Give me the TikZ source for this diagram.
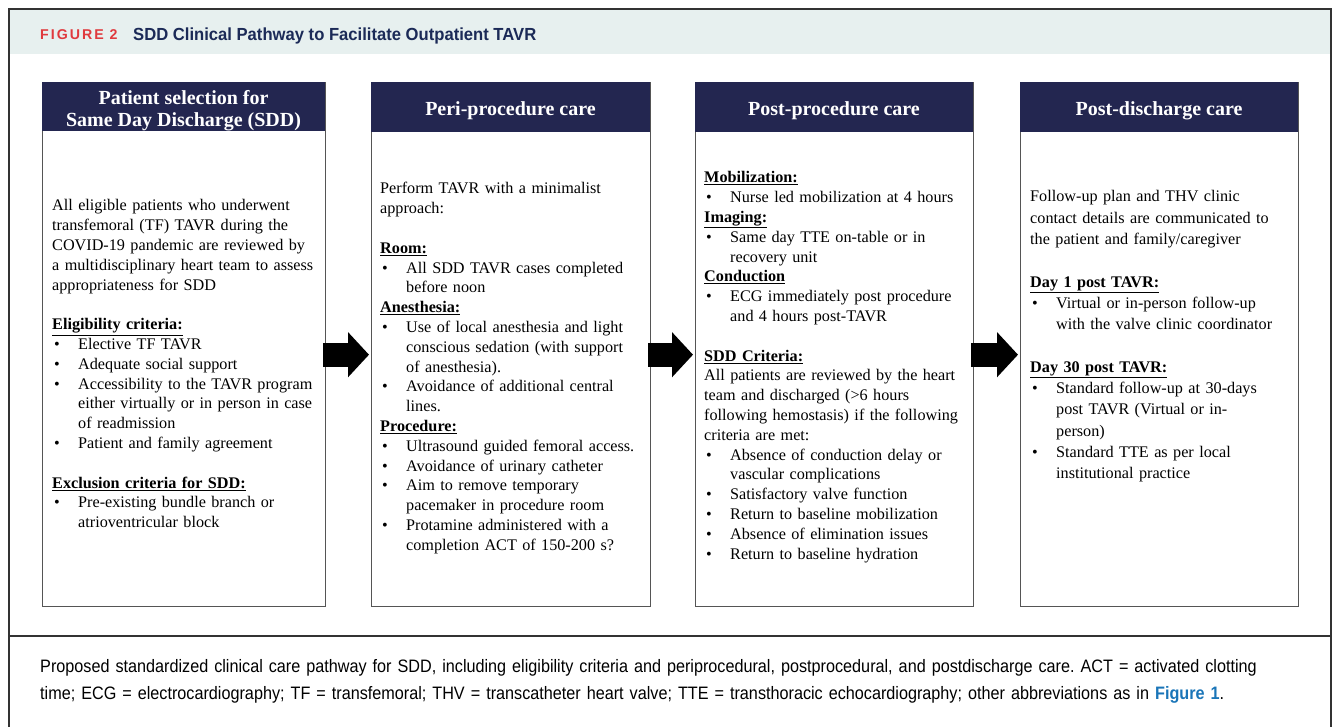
\documentclass[tikz,border=0pt]{standalone}
\usepackage{fontspec}
\setmainfont{Liberation Serif}
\newfontfamily\capfont[FakeStretch=0.9]{Liberation Sans}
\newfontfamily\titlefont[FakeStretch=0.95]{Liberation Sans}
\newfontfamily\figfont[LetterSpace=14]{Liberation Sans}
\usetikzlibrary{arrows.meta}

\definecolor{navy}{HTML}{232650}
\definecolor{titlenavy}{HTML}{1B2A57}
\definecolor{figred}{HTML}{E03A3E}
\definecolor{band}{HTML}{E7F0EF}
\definecolor{linkblue}{HTML}{1A75B8}
\definecolor{framegray}{HTML}{333333}
\definecolor{boxgray}{HTML}{555555}

% bullet item with hanging indent
\newlength\bind \setlength\bind{26pt}
\newcommand\bpt[1]{\par\noindent\hangindent=\bind\hangafter=1\makebox[\bind][l]{\hspace{2pt}\textbullet}#1\par}
\newcommand\hd[1]{\par\noindent\underline{\textbf{#1}}\par}
\newcommand\hdfirst[1]{\noindent\underline{\textbf{#1}}\par}
\newcommand\gap{\par\vspace{\baselineskip}}

\tikzset{
  stagebox/.style={draw=boxgray, line width=1.4pt, fill=white},
  stagehead/.style={text=white, font=\fontsize{20}{22}\selectfont\bfseries, align=center, inner sep=0pt},
  bodytext/.style={anchor=base west, inner sep=0pt, text width=300pt, align=left,
    font=\fontsize{16.2}{19.8}\selectfont\frenchspacing},
  flowarrow/.style={line width=24pt, -{Triangle[length=21pt,width=44pt]}, shorten <=-3pt, shorten >=2pt}
}

\begin{document}
\begin{tikzpicture}[x=1pt,y=-1pt]
\useasboundingbox (0,0) rectangle (1335,727);

% frame and title band
\fill[band] (9,9) rectangle (1331,54);
\draw[framegray, line width=1.8pt] (9,730) -- (9,9) -- (1331,9) -- (1331,730);
\draw[framegray, line width=1.8pt] (9,636) -- (1331,636);

\node[anchor=base west, inner sep=0, text=figred, font=\fontsize{14.2}{16}\selectfont\figfont\bfseries] (fig) at (40,40) {FIGURE 2};
\node[anchor=base west, inner sep=0, text=titlenavy, font=\fontsize{17.5}{20}\selectfont\titlefont\bfseries] (ttl) at (133,40.5) {SDD Clinical Pathway to Facilitate Outpatient TAVR};

% stage boxes
\node[stagebox, anchor=north west, minimum width=283pt, minimum height=524pt, inner sep=0] (b1) at (42,82) {};
\node[stagebox, anchor=north west, minimum width=279pt, minimum height=524pt, inner sep=0] (b2) at (371,82) {};
\node[stagebox, anchor=north west, minimum width=278pt, minimum height=524pt, inner sep=0] (b3) at (695,82) {};
\node[stagebox, anchor=north west, minimum width=278pt, minimum height=524pt, inner sep=0] (b4) at (1020,82) {};

% header bands
\fill[navy] (42,82) rectangle (325,131);
\fill[navy] (371,82) rectangle (650,132);
\fill[navy] (695,82) rectangle (973,132);
\fill[navy] (1020,82) rectangle (1298,132);
\node[stagehead] (h1) at (183.5,111) {Patient selection for\\Same Day Discharge (SDD)};
\node[stagehead] (h2) at (510.5,111) {Peri-procedure care};
\node[stagehead] (h3) at (834,111) {Post-procedure care};
\node[stagehead] (h4) at (1159,111) {Post-discharge care};

% box 1 text
\node[bodytext] (t1) at (52,211) {%
All eligible patients who underwent\\
transfemoral (TF) TAVR during the\\
COVID-19 pandemic are reviewed by\\
a multidisciplinary heart team to assess\\
appropriateness for SDD\gap
\hd{Eligibility criteria:}
\bpt{Elective TF TAVR}
\bpt{Adequate social support}
\bpt{Accessibility to the TAVR program\newline either virtually or in person in case\newline of readmission}
\bpt{Patient and family agreement}
\gap
\hd{Exclusion criteria for SDD:}
\bpt{Pre-existing bundle branch or\newline atrioventricular block}};

% box 2 text
\node[bodytext] (t2) at (380,194) {%
Perform TAVR with a minimalist\\
approach:\gap
\hd{Room:}
\bpt{All SDD TAVR cases completed\newline before noon}
\hd{Anesthesia:}
\bpt{Use of local anesthesia and light\newline conscious sedation (with support\newline of anesthesia).}
\bpt{Avoidance of additional central\newline lines.}
\hd{Procedure:}
\bpt{Ultrasound guided femoral access.}
\bpt{Avoidance of urinary catheter}
\bpt{Aim to remove temporary\newline pacemaker in procedure room}
\bpt{Protamine administered with a\newline completion ACT of 150-200 s?}};

% box 3 text
\node[bodytext] (t3) at (704,183) {%
\hdfirst{Mobilization:}
\bpt{Nurse led mobilization at 4 hours}
\hd{Imaging:}
\bpt{Same day TTE on-table or in\newline recovery unit}
\hd{Conduction}
\bpt{ECG immediately post procedure\newline and 4 hours post-TAVR}
\gap
\hd{SDD Criteria:}
All patients are reviewed by the heart\\
team and discharged (>6 hours\\
following hemostasis) if the following\\
criteria are met:\par
\bpt{Absence of conduction delay or\newline vascular complications}
\bpt{Satisfactory valve function}
\bpt{Return to baseline mobilization}
\bpt{Absence of elimination issues}
\bpt{Return to baseline hydration}};

% box 4 text
\node[bodytext, font=\fontsize{16.2}{21.3}\selectfont] (t4) at (1030,202) {%
Follow-up plan and THV clinic\\
contact details are communicated to\\
the patient and family/caregiver\gap
\hd{Day 1 post TAVR:}
\bpt{Virtual or in-person follow-up\newline with the valve clinic coordinator}
\gap
\hd{Day 30 post TAVR:}
\bpt{Standard follow-up at 30-days\newline post TAVR (Virtual or in-\newline person)}
\bpt{Standard TTE as per local\newline institutional practice}};

% flow arrows
\draw[flowarrow] ([yshift=-10pt]b1.east) -- ([yshift=-10pt]b2.west);
\draw[flowarrow] ([yshift=-10pt]b2.east) -- ([yshift=-10pt]b3.west);
\draw[flowarrow] ([yshift=-10pt]b3.east) -- ([yshift=-10pt]b4.west);

% caption
\node[anchor=base west, inner sep=0, font=\fontsize{18}{27}\selectfont\capfont\frenchspacing, text width=1280pt, align=left] (cap) at (40,672) {%
Proposed standardized clinical care pathway for SDD, including eligibility criteria and periprocedural, postprocedural, and postdischarge care. ACT = activated clotting\\
time; ECG = electrocardiography; TF = transfemoral; THV = transcatheter heart valve; TTE = transthoracic echocardiography; other abbreviations as in \textcolor{linkblue}{\textbf{Figure 1}}.};
\end{tikzpicture}
\end{document}
